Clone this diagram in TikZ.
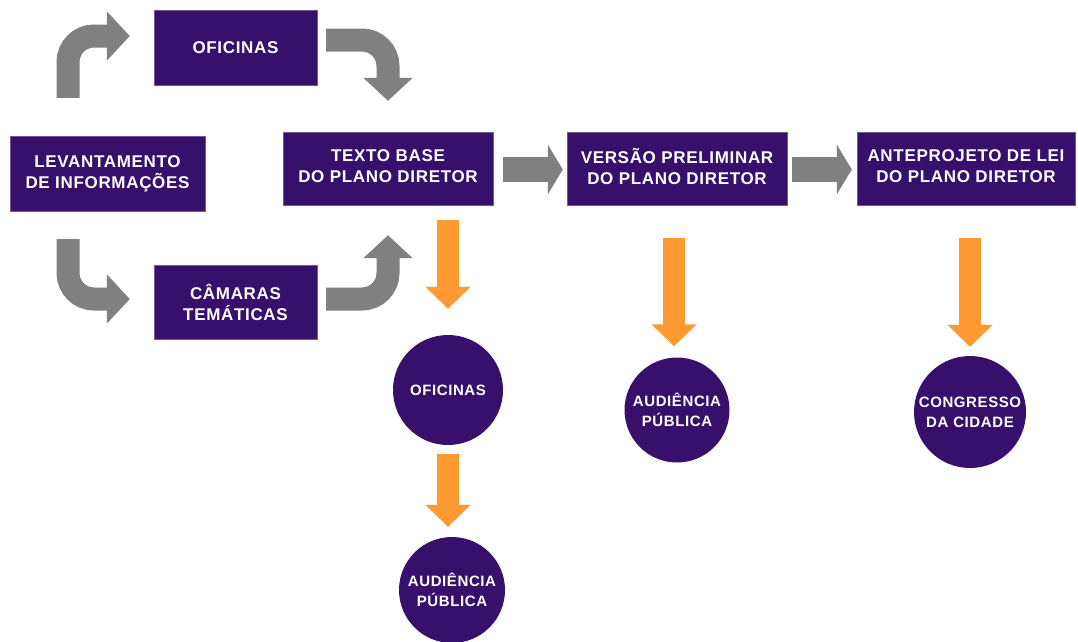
\documentclass[tikz,border=0pt]{standalone}
\usepackage{fontspec}
\setmainfont{Liberation Sans}[LetterSpace=4]
\usetikzlibrary{arrows.meta,positioning}
\definecolor{darkpurple}{HTML}{36106B}
\definecolor{arrowgray}{HTML}{808080}
\definecolor{arroworange}{HTML}{FF9A33}

\begin{document}
\begin{tikzpicture}[x=1pt,y=-1pt,
  box/.style={rectangle,fill=darkpurple,draw=darkpurple!70!white,line width=0.4pt,text=white,align=center,inner sep=1pt,
    font=\bfseries\fontsize{17}{21}\selectfont},
  disc/.style={circle,fill=darkpurple,text=white,align=center,inner sep=0pt,
    font=\bfseries\fontsize{15}{20}\selectfont},
  bentarr/.style={draw=arrowgray,line width=23pt,rounded corners=26pt,-{Triangle[length=23pt,width=48pt]}},
  grayarr/.style={draw=arrowgray,line width=25pt,-{Triangle[length=15pt,width=49pt]}},
  orangearr/.style={draw=arroworange,line width=22pt,-{Triangle[length=22pt,width=44pt]}}]
\useasboundingbox (0,0) rectangle (1078,641);
% \draw[help lines,step=50] (0,0) grid (1078,641);
\node (lev) [box,minimum width=195pt,minimum height=75pt] at (107.5,173.5) {LEVANTAMENTO\\DE INFORMAÇÕES};
\node (ofi) [box,minimum width=163pt,minimum height=75pt] at (235.5,47.5) {OFICINAS};
\node (cam) [box,minimum width=163pt,minimum height=74pt] at (235.5,302) {CÂMARAS\\TEMÁTICAS};
\node (base) [box,minimum width=210pt,minimum height=73pt] at (388,168.5) {TEXTO BASE\\DO PLANO DIRETOR\\[-16pt]};
\node (prelim) [box,minimum width=220pt,minimum height=73pt] at (677,168.5) {VERSÃO PRELIMINAR\\DO PLANO DIRETOR\\[-16pt]};
\node (antep) [box,minimum width=218pt,minimum height=73pt] at (966,168.5) {ANTEPROJETO DE LEI\\DO PLANO DIRETOR\\[-16pt]};
%
\node (ofic) [disc,minimum size=110pt] at (448,390) {OFICINAS};
\node (aud1) [disc,minimum size=106pt] at (452,590) {AUDIÊNCIA\\PÚBLICA};
\node (aud2) [disc,minimum size=105pt] at (677,410) {AUDIÊNCIA\\PÚBLICA};
\node (cong) [disc,minimum size=112pt] at (970,412) {CONGRESSO\\DA CIDADE};
%
\draw[bentarr] ([xshift=-39.5pt,yshift=38pt]lev.north) |- ([xshift=-24pt,yshift=11.5pt]ofi.west);
\draw[bentarr] ([xshift=9pt,yshift=7.5pt]ofi.east) -| ([yshift=31pt]base.north);
\draw[bentarr] ([xshift=-39.5pt,yshift=-28pt]lev.south) |- ([xshift=-24pt,yshift=3pt]cam.west);
\draw[bentarr] ([xshift=9pt,yshift=3pt]cam.east) -| ([yshift=-30pt]base.south);
%
\draw[grayarr,shorten <=10pt,shorten >=4pt] ([yshift=-1pt]base.east) -- ([yshift=-1pt]prelim.west);
\draw[grayarr,shorten <=5pt,shorten >=5pt] ([yshift=-1pt]prelim.east) -- ([yshift=-1pt]antep.west);
%
\draw[orangearr,shorten <=15pt,shorten >=26pt] (ofic.north |- base.south) -- (ofic.north);
\draw[orangearr,shorten <=9pt,shorten >=10pt] (ofic.south) -- (ofic.south |- aud1.north);
\draw[orangearr,shorten <=33pt,shorten >=11pt] ([xshift=-3pt]aud2.north |- prelim.south) -- ([xshift=-3pt]aud2.north);
\draw[orangearr,shorten <=33pt,shorten >=9pt] (cong.north |- antep.south) -- (cong.north);
\end{tikzpicture}
\end{document}
